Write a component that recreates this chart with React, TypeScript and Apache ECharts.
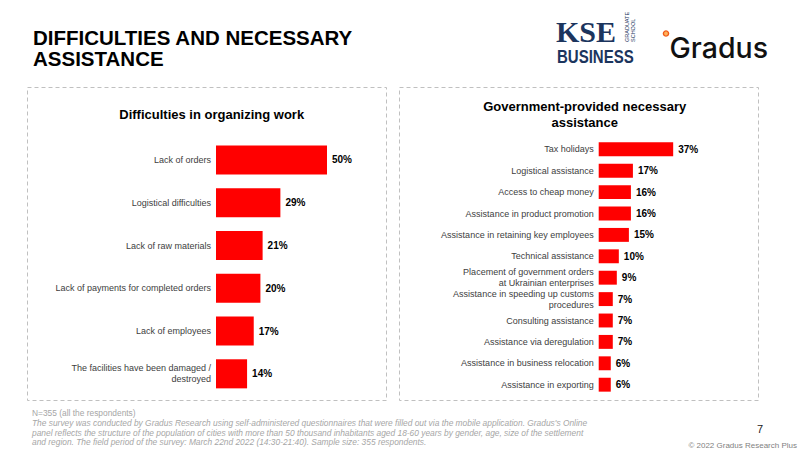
import React, { useEffect, useRef } from "react";
import * as echarts from "echarts";

const leftCategories = [
  "Lack of orders",
  "Logistical difficulties",
  "Lack of raw materials",
  "Lack of payments for completed orders",
  "Lack of employees",
  "The facilities have been damaged /\ndestroyed",
];
const leftValues = [50, 29, 21, 20, 17, 14];

const rightCategories = [
  "Tax holidays",
  "Logistical assistance",
  "Access to cheap money",
  "Assistance in product promotion",
  "Assistance in retaining key employees",
  "Technical assistance",
  "Placement of government orders\nat Ukrainian enterprises",
  "Assistance in speeding up customs\nprocedures",
  "Consulting assistance",
  "Assistance via deregulation",
  "Assistance in business relocation",
  "Assistance in exporting",
];
const rightValues = [37, 17, 16, 16, 15, 10, 9, 7, 7, 7, 6, 6];

const titleLines = ["DIFFICULTIES AND NECESSARY", "ASSISTANCE"];
const leftTitle = "Difficulties in organizing work";
const rightTitle = "Government-provided necessary\nassistance";
const footNote = "N=355 (all the respondents)";
const footText =
  "The survey was conducted by Gradus Research using self-administered questionnaires that were filled out via the mobile application. Gradus's Online\npanel reflects the structure of the population of cities with more than 50 thousand inhabitants aged 18-60 years by gender, age, size of the settlement\nand region. The field period of the survey: March 22nd 2022 (14:30-21:40). Sample size: 355 respondents.";
const pageNumber = "7";
const copyright = "© 2022 Gradus Research Plus";

const FONT = "'Liberation Sans', Arial, sans-serif";
const RED = "#ff0000";

export default function App() {
  const ref = useRef<HTMLDivElement>(null);

  useEffect(() => {
    if (!ref.current) return;
    const chart = echarts.init(ref.current, null, { renderer: "svg" });

    const valueLabel = {
      show: true,
      position: "right" as const,
      distance: 5,
      formatter: "{c}%",
      fontFamily: FONT,
      fontWeight: "bold" as const,
      fontSize: 10,
      color: "#000000",
    };

    const catAxisCommon = {
      type: "category" as const,
      inverse: true,
      axisLine: { show: false },
      axisTick: { show: false },
      splitLine: { show: false },
      axisLabel: {
        fontFamily: FONT,
        fontSize: 9,
        color: "#404040",
        margin: 5,
        lineHeight: 11,
      },
    };

    const valAxisCommon = {
      type: "value" as const,
      min: 0,
      max: 100,
      show: false,
      splitLine: { show: false },
    };

    chart.setOption({
      animation: false,
      backgroundColor: "#ffffff",
      textStyle: { fontFamily: FONT },
      grid: [
        { left: 216, top: 138.6, width: 222, height: 256.6, containLabel: false },
        { left: 598.7, top: 138.6, width: 219.7, height: 256.8, containLabel: false },
      ],
      xAxis: [
        { ...valAxisCommon, gridIndex: 0 },
        { ...valAxisCommon, gridIndex: 1 },
      ],
      yAxis: [
        { ...catAxisCommon, gridIndex: 0, data: leftCategories },
        { ...catAxisCommon, gridIndex: 1, data: rightCategories },
      ],
      series: [
        {
          type: "bar",
          xAxisIndex: 0,
          yAxisIndex: 0,
          data: leftValues,
          barCategoryGap: "32%",
          itemStyle: { color: RED },
          label: valueLabel,
        },
        {
          type: "bar",
          xAxisIndex: 1,
          yAxisIndex: 1,
          data: rightValues,
          barCategoryGap: "35%",
          itemStyle: { color: RED },
          label: valueLabel,
        },
      ],
      graphic: [
        // panels
        {
          type: "rect",
          shape: { x: 27.5, y: 87.5, width: 359, height: 313 },
          style: { fill: "none", stroke: "#c0c0c0", lineWidth: 1, lineDash: [4, 3] },
          silent: true,
        },
        {
          type: "rect",
          shape: { x: 399.5, y: 87.5, width: 359, height: 313 },
          style: { fill: "none", stroke: "#c0c0c0", lineWidth: 1, lineDash: [4, 3] },
          silent: true,
        },
        // main title
        {
          type: "text",
          x: 33,
          y: 37,
          style: {
            text: titleLines[0],
            fontFamily: FONT,
            fontWeight: "bold",
            fontSize: 20.5,
            fill: "#000000",
            align: "left",
            verticalAlign: "middle",
          },
        },
        {
          type: "text",
          x: 33,
          y: 58,
          style: {
            text: titleLines[1],
            fontFamily: FONT,
            fontWeight: "bold",
            fontSize: 20.5,
            fill: "#000000",
            align: "left",
            verticalAlign: "middle",
          },
        },
        // chart titles
        {
          type: "text",
          x: 211.7,
          y: 114.5,
          style: {
            text: leftTitle,
            fontFamily: FONT,
            fontWeight: "bold",
            fontSize: 13,
            fill: "#000000",
            align: "center",
            verticalAlign: "middle",
          },
        },
        {
          type: "text",
          x: 584.7,
          y: 114.5,
          style: {
            text: rightTitle,
            fontFamily: FONT,
            fontWeight: "bold",
            fontSize: 13,
            lineHeight: 15.6,
            fill: "#000000",
            align: "center",
            verticalAlign: "middle",
          },
        },
        // KSE logo
        {
          type: "text",
          x: 556,
          y: 31,
          style: {
            text: "KSE",
            fontFamily: "'Liberation Serif', 'Times New Roman', serif",
            fontWeight: "bold",
            fontSize: 30,
            fill: "#1c355e",
            align: "left",
            verticalAlign: "middle",
          },
        },
        {
          type: "text",
          x: 627,
          y: 42,
          rotation: Math.PI / 2,
          style: {
            text: "GRADUATE",
            fontFamily: FONT,
            fontSize: 5.5,
            fill: "#1c355e",
            align: "left",
            verticalAlign: "middle",
          },
        },
        {
          type: "text",
          x: 633,
          y: 42,
          rotation: Math.PI / 2,
          style: {
            text: "SCHOOL",
            fontFamily: FONT,
            fontSize: 5.5,
            fill: "#1c355e",
            align: "left",
            verticalAlign: "middle",
          },
        },
        {
          type: "text",
          x: 557,
          y: 56.5,
          scaleX: 0.79,
          style: {
            text: "BUSINESS",
            fontFamily: FONT,
            fontWeight: "bold",
            fontSize: 19,
            fill: "#1c355e",
            align: "left",
            verticalAlign: "middle",
          },
        },
        // Gradus logo
        {
          type: "circle",
          shape: { cx: 666, cy: 33.5, r: 2.6 },
          style: { fill: "#ffb25a", stroke: "#f05a1a", lineWidth: 1.4 },
        },
        {
          type: "text",
          x: 669.5,
          y: 47,
          style: {
            text: "Gradus",
            fontFamily: "Inter, 'Noto Sans', sans-serif",
            fontWeight: 500,
            fontSize: 28.5,
            fill: "#111111",
            align: "left",
            verticalAlign: "middle",
          },
        },
        // footer
        {
          type: "text",
          x: 32,
          y: 412.5,
          style: {
            text: footNote,
            fontFamily: FONT,
            fontSize: 8.4,
            fill: "#a6a6a6",
            align: "left",
            verticalAlign: "middle",
          },
        },
        {
          type: "text",
          x: 32,
          y: 432.5,
          style: {
            text: footText,
            fontFamily: FONT,
            fontStyle: "italic",
            fontSize: 8.4,
            lineHeight: 9.6,
            fill: "#a6a6a6",
            align: "left",
            verticalAlign: "middle",
          },
        },
        {
          type: "text",
          x: 760,
          y: 428.5,
          style: {
            text: pageNumber,
            fontFamily: FONT,
            fontSize: 11,
            fill: "#222222",
            align: "center",
            verticalAlign: "middle",
          },
        },
        {
          type: "text",
          x: 797,
          y: 445,
          style: {
            text: copyright,
            fontFamily: FONT,
            fontSize: 8,
            fill: "#7f7f7f",
            align: "right",
            verticalAlign: "middle",
          },
        },
      ],
    });

    return () => {
      chart.dispose();
    };
  }, []);

  return (
    <div
      ref={ref}
      style={{ position: "fixed", left: 0, top: 0, width: 800, height: 450 }}
    />
  );
}
